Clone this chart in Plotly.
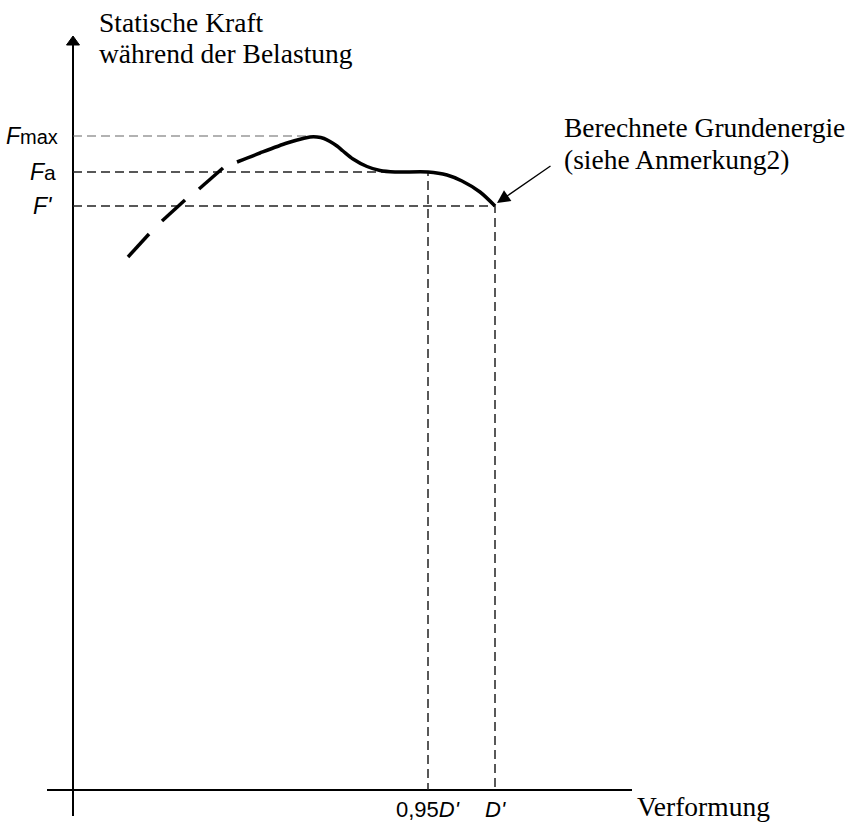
import plotly.graph_objects as go

# ---- data (schematic units: origin at axis crossing) ----
D_prime = 422.0        # D'
D_095 = 355.0          # 0,95 D'
F_max = 654.0
F_a = 618.0
F_prime = 584.0

# dashed (extrapolated) start of the curve: individual dash segments
curve_dash_x = [55, 76, None, 89, 112, None, 126, 150]
curve_dash_y = [533, 556, None, 569, 590, None, 601, 622]
# solid measured curve
curve_x = [164, 187, 214, 230, 237, 244, 251, 257, 264, 270, 280, 294, 307, 322, 355, 374, 389, 407, 422]
curve_y = [628, 637, 647, 651.5, 653, 653, 651.5, 648.5, 644, 639, 631, 623.5, 619.5, 618, 618, 615, 609, 598, 584]

x_axis_extent = [-26, 559]
y_axis_extent = [-26, 745]
y_arrow_tip = 754

fig = go.Figure()

# axes
fig.add_trace(go.Scatter(x=x_axis_extent, y=[0, 0], mode="lines",
                         line=dict(color="black", width=2), hoverinfo="skip"))
fig.add_trace(go.Scatter(x=[0, 0], y=y_axis_extent, mode="lines",
                         line=dict(color="black", width=2), hoverinfo="skip"))
fig.add_trace(go.Scatter(x=[-6.5, 6.5, 0, -6.5],
                         y=[y_axis_extent[1], y_axis_extent[1], y_arrow_tip, y_axis_extent[1]],
                         mode="lines", fill="toself", fillcolor="black",
                         line=dict(color="black", width=1), hoverinfo="skip"))

# helper dashed lines
dash_style = dict(color="#222222", width=1.5, dash="9px,5px")
peak_x = curve_x[curve_y.index(max(curve_y))]
fig.add_trace(go.Scatter(x=[0, peak_x], y=[F_max, F_max], mode="lines",
                         line=dict(color="#666666", width=1.2, dash="9px,5px"), hoverinfo="skip"))
fig.add_trace(go.Scatter(x=[0, D_095, D_095], y=[F_a, F_a, 0], mode="lines",
                         line=dash_style, hoverinfo="skip"))
fig.add_trace(go.Scatter(x=[0, D_prime, D_prime], y=[F_prime, F_prime, 0], mode="lines",
                         line=dash_style, hoverinfo="skip"))

# curve
fig.add_trace(go.Scatter(x=curve_dash_x, y=curve_dash_y, mode="lines", connectgaps=False,
                         line=dict(color="black", width=3.5), hoverinfo="skip"))
fig.add_trace(go.Scatter(x=curve_x, y=curve_y, mode="lines",
                         line=dict(color="black", width=3.5, shape="spline", smoothing=0.8),
                         hoverinfo="skip"))

serif = "Liberation Serif, Times New Roman, serif"
sans = "Liberation Sans, Arial, sans-serif"
SF = 27.5

ann = []
# y-axis title
ann.append(dict(x=24, y=768, text="Statische Kraft", xanchor="left", yanchor="middle",
                showarrow=False, font=dict(family=serif, size=SF, color="black")))
ann.append(dict(x=24, y=737, text="während der Belastung", xanchor="left", yanchor="middle",
                showarrow=False, font=dict(family=serif, size=SF, color="black")))
# x-axis title
ann.append(dict(x=562, y=-16, text="Verformung", xanchor="left", yanchor="middle",
                showarrow=False, font=dict(family=serif, size=SF, color="black")))
# y tick labels
ann.append(dict(x=0, y=F_max, xshift=-13, text="<i>F</i><span style='font-size:20px'>max</span>",
                xanchor="right", yanchor="middle", showarrow=False,
                font=dict(family=sans, size=23, color="black")))
ann.append(dict(x=0, y=F_a, xshift=-15, text="<i>F</i><span style='font-size:21px'>a</span>",
                xanchor="right", yanchor="middle", showarrow=False,
                font=dict(family=sans, size=23, color="black")))
ann.append(dict(x=0, y=F_prime, xshift=-18, text="<i>F'</i>",
                xanchor="right", yanchor="middle", showarrow=False,
                font=dict(family=sans, size=23, color="black")))
# x tick labels
ann.append(dict(x=D_095, y=0, yshift=-19, text="0,95<i>D'</i>", xanchor="center", yanchor="middle",
                showarrow=False, font=dict(family=sans, size=22, color="black")))
ann.append(dict(x=D_prime, y=0, yshift=-19, text="<i>D'</i>", xanchor="center", yanchor="middle",
                showarrow=False, font=dict(family=sans, size=22, color="black")))
# note with arrow
ann.append(dict(x=489, y=663, text="Berechnete Grundenergie", xanchor="left", yanchor="middle",
                showarrow=False, font=dict(family=serif, size=SF, color="black")))
ann.append(dict(x=489, y=631, text="(siehe Anmerkung2)", xanchor="left", yanchor="middle",
                showarrow=False, font=dict(family=serif, size=SF, color="black")))
ann.append(dict(x=D_prime + 2, y=F_prime + 3, ax=479, ay=625, axref="x", ayref="y",
                xref="x", yref="y", text="", showarrow=True, arrowhead=2, arrowsize=2.0,
                arrowwidth=1.3, arrowcolor="black"))

fig.update_layout(
    width=857, height=826,
    margin=dict(l=0, r=0, t=0, b=0),
    paper_bgcolor="white", plot_bgcolor="white",
    showlegend=False,
    xaxis=dict(range=[-73, 784], visible=False, fixedrange=True),
    yaxis=dict(range=[-36, 790], visible=False, fixedrange=True),
    annotations=ann,
)

fig.write_html("out.html", config={"displayModeBar": False, "staticPlot": True},
               post_script="document.body.style.margin='0';document.body.style.overflow='hidden';")
